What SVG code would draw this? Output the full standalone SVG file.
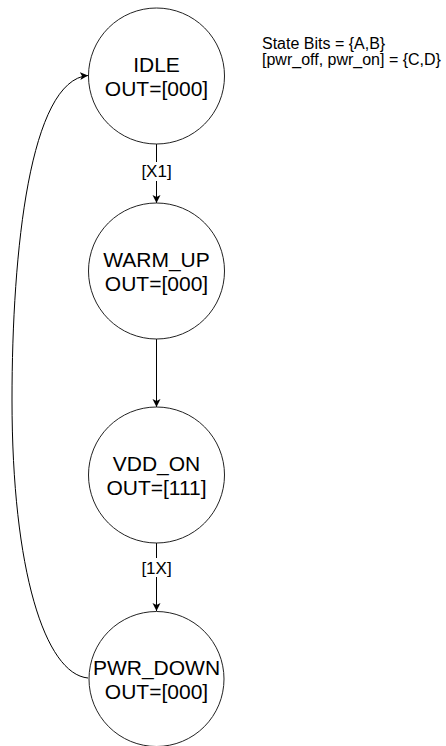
<svg xmlns="http://www.w3.org/2000/svg" width="446" height="746" viewBox="0 0 446 746">
<defs>
<style>
.node circle{fill:#ffffff;stroke:#222222;stroke-width:1}
.node text{font-family:"Liberation Sans",Arial,Helvetica,sans-serif;font-size:21px;fill:#000000;text-anchor:middle}
.edge{fill:none;stroke:#000000;stroke-width:1}
.lbl{font-family:"Liberation Sans",Arial,Helvetica,sans-serif;font-size:17px;fill:#000000;text-anchor:middle}
.note{font-family:"Liberation Sans",Arial,Helvetica,sans-serif;font-size:16px;fill:#000000}
</style>
<marker id="arr" markerUnits="userSpaceOnUse" markerWidth="10" markerHeight="10" refX="8" refY="4" orient="auto" viewBox="0 0 10 8">
<path d="M0 0 L8 4 L0 8 L2 4 Z" fill="#000000"/>
</marker>
</defs>
<rect width="446" height="746" fill="#ffffff"/>
<g id="connectors">
<line class="edge" x1="156.5" y1="144" x2="156.5" y2="203" marker-end="url(#arr)"/>
<line class="edge" x1="156.5" y1="339" x2="156.5" y2="407" marker-end="url(#arr)"/>
<line class="edge" x1="156.5" y1="543" x2="156.5" y2="611" marker-end="url(#arr)"/>
<path class="edge" d="M88 678 C45 674 12 570 12 400 C12 250 30 80 88 75.5" marker-end="url(#arr)"/>
<rect x="140" y="162" width="33" height="19" fill="#ffffff"/>
<text class="lbl" x="156.5" y="177">[X1]</text>
<rect x="140" y="558" width="33" height="19" fill="#ffffff"/>
<text class="lbl" x="156.5" y="574">[1X]</text>
</g>
<g id="IDLE" class="node">
<circle cx="156.5" cy="76" r="68"/>
<text x="156.5" y="71.5">IDLE</text>
<text x="156.5" y="95.5">OUT=[000]</text>
</g>
<g id="WARM_UP" class="node">
<circle cx="156.5" cy="271" r="68"/>
<text x="156.5" y="266.5">WARM_UP</text>
<text x="156.5" y="290.5">OUT=[000]</text>
</g>
<g id="VDD_ON" class="node">
<circle cx="156.5" cy="475" r="68"/>
<text x="156.5" y="470.5">VDD_ON</text>
<text x="156.5" y="494.5">OUT=[111]</text>
</g>
<g id="PWR_DOWN" class="node">
<circle cx="156.5" cy="679" r="67.5"/>
<text x="156.5" y="674.5">PWR_DOWN</text>
<text x="156.5" y="698.5">OUT=[000]</text>
</g>
<g id="note">
<text class="note" x="262" y="49">State Bits = {A,B}</text>
<text class="note" x="262" y="65">[pwr_off, pwr_on] = {C,D}</text>
</g>
</svg>
